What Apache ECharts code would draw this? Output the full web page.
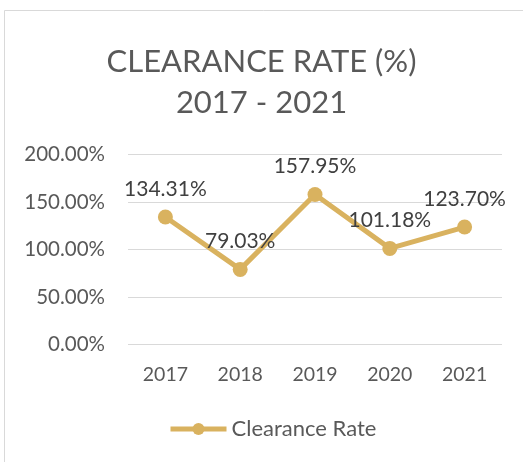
<!DOCTYPE html>
<html>
<head>
<meta charset="utf-8">
<script src="https://cdn.jsdelivr.net/npm/echarts@6/dist/echarts.min.js"></script>
<style>html,body{margin:0;padding:0;background:#fff}#c{width:523px;height:462px}</style>
</head>
<body>
<div id="c"></div>
<script>
const categories = ['2017', '2018', '2019', '2020', '2021'];
const clearanceRate = [134.31, 79.03, 157.95, 101.18, 123.70];
const seriesName = 'Clearance Rate';
const titleText = 'CLEARANCE RATE (%)\n2017 - 2021';

const FONT = 'Lato';
const chart = echarts.init(document.getElementById('c'), null, {renderer: 'canvas'});
chart.setOption({
  animation: false,
  backgroundColor: '#fff',
  graphic: [
    {type: 'line', shape: {x1: 4.5, y1: 10.5, x2: 523, y2: 10.5}, style: {stroke: '#D9D9D9', lineWidth: 1}},
    {type: 'line', shape: {x1: 4.5, y1: 10.5, x2: 4.5, y2: 462}, style: {stroke: '#D9D9D9', lineWidth: 1}}
  ],
  title: {
    text: titleText,
    left: 'center',
    top: 36,
    textStyle: {fontFamily: FONT, fontSize: 31, fontWeight: 'normal', color: '#595959', lineHeight: 41}
  },
  grid: {left: 128, right: 21, top: 154.7, bottom: 117.7, containLabel: false},
  legend: {
    data: [seriesName],
    left: 163,
    top: 413,
    itemWidth: 56,
    itemHeight: 15,
    itemGap: 10,
    lineStyle: {width: 5},
    textStyle: {fontFamily: FONT, fontSize: 22, color: '#595959'}
  },
  xAxis: {
    type: 'category',
    data: categories,
    boundaryGap: true,
    axisLine: {show: false},
    axisTick: {show: false},
    axisLabel: {fontFamily: FONT, fontSize: 19.5, color: '#595959', margin: 20}
  },
  yAxis: {
    type: 'value',
    min: 0,
    max: 200,
    interval: 50,
    axisLine: {show: false},
    axisTick: {show: false},
    splitLine: {lineStyle: {color: '#D9D9D9', width: 1}},
    axisLabel: {fontFamily: FONT, fontSize: 20.5, color: '#595959', margin: 23,
      formatter: v => v.toFixed(2) + '%'}
  },
  series: [{
    name: seriesName,
    type: 'line',
    data: clearanceRate,
    symbol: 'circle',
    symbolSize: 15,
    itemStyle: {color: '#D9B25F'},
    lineStyle: {color: '#D9B25F', width: 5},
    label: {
      show: true,
      position: 'top',
      distance: 10,
      fontFamily: FONT,
      fontSize: 21,
      color: '#404040',
      formatter: p => p.value.toFixed(2) + '%'
    }
  }]
});
</script>
</body>
</html>
